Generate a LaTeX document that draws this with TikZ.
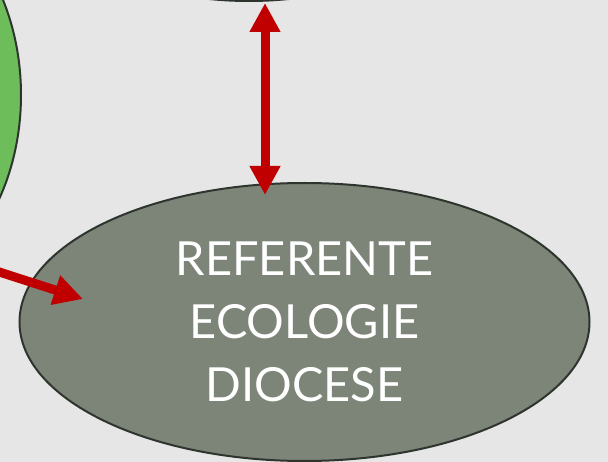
\documentclass[tikz,border=0pt]{standalone}
\usepackage{fontspec}
\setmainfont{Lato}
\usetikzlibrary{shapes.geometric,arrows.meta}
\definecolor{bgcol}{HTML}{E6E6E6}
\definecolor{sage}{HTML}{7C8578}
\definecolor{leaf}{HTML}{6DBE5A}
\definecolor{rim}{HTML}{2E352E}
\definecolor{alert}{HTML}{C00000}
\tikzstyle{bubble} = [ellipse, draw=rim, line width=2pt, inner sep=0pt]
\tikzstyle{link} = [draw=alert, line width=9pt, -{Triangle[width=29pt,length=29pt]}]
\tikzstyle{dbllink} = [draw=alert, line width=9pt, {Triangle[width=29pt,length=29pt]}-{Triangle[width=29pt,length=29pt]}]

\begin{document}
\begin{tikzpicture}[x=1pt, y=-1pt]%
	\fill[bgcol] (0,0) rectangle (608,462);
	\useasboundingbox (0,0) rectangle (608,462);
	% partly hidden neighbours
	\node [bubble, fill=leaf, minimum width=300pt, minimum height=400pt] (paroisse) at (-129,95) {};
	\node [bubble, fill=sage, minimum width=400pt, minimum height=202pt] (diocese) at (249,-100) {};
	% main bubble
	\node [bubble, fill=sage, minimum width=570pt, minimum height=278pt,
		text=white, font=\fontsize{47}{63}\selectfont, align=center] (referent) at (304.5,322)
		{REFERENTE\\ECOLOGIE\\DIOCESE};
	% arrows
	\coordinate (haut) at (265,3);
	\coordinate (bas) at (265,195);
	\coordinate (gauche) at (-10,269);
	\coordinate (pointe) at (83,299);
	\draw [dbllink] (haut) -- (bas);
	\draw [link] (gauche) -- (pointe);
\end{tikzpicture}
\end{document}
